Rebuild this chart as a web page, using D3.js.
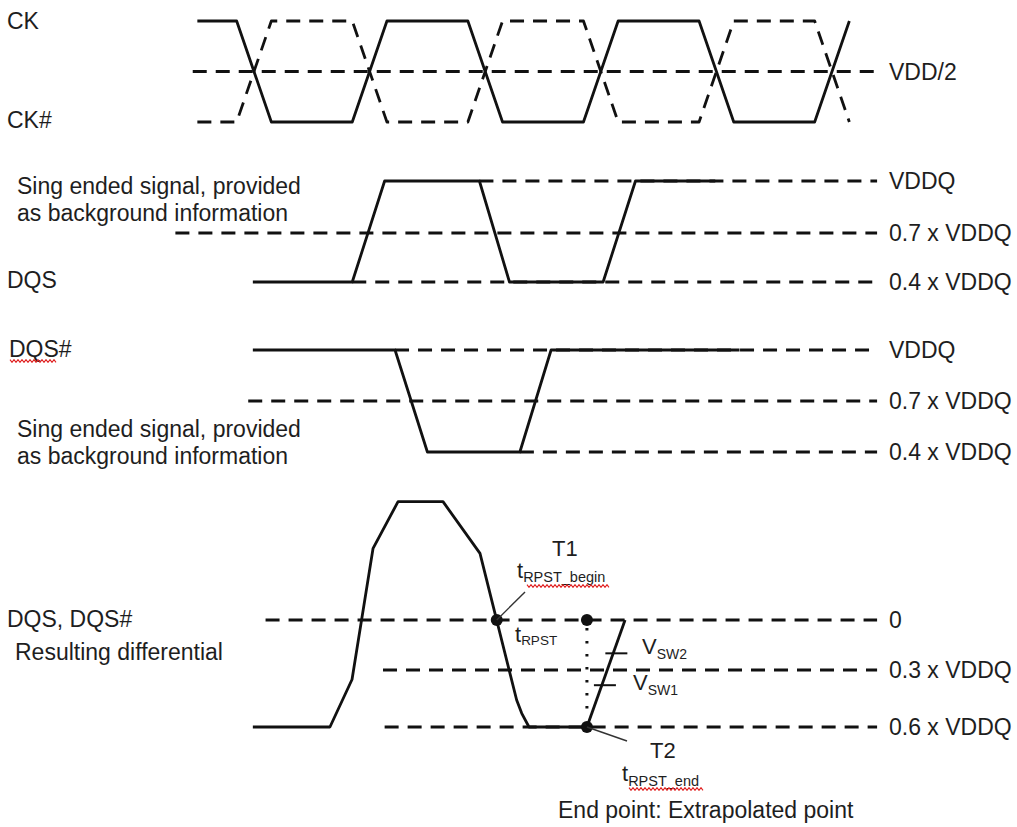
<!DOCTYPE html>
<html>
<head>
<meta charset="utf-8">
<script src="https://cdn.jsdelivr.net/npm/d3@7"></script>
<style>
  html, body { margin: 0; padding: 0; background: #fff; }
  text { font-family: "Liberation Sans", Arial, sans-serif; fill: #1e1e1e; }
</style>
</head>
<body>
<svg id="chart" width="1017" height="827"></svg>
<script>
// ---- time axis: one unit = half a clock period ----
const timeDomain = [0, 1];
const refEnd = 5.39;

// ---- CK / CK# (level 1 = high, 0 = low) ----
const ckWave  = [[-0.49,1],[-0.15,1],[0.15,0],[0.85,0],[1.15,1],[1.85,1],[2.15,0],[2.85,0],[3.15,1],[3.85,1],[4.15,0],[4.85,0],[5.15,1]];
const ckbWave = [[-0.49,0],[-0.15,0],[0.15,1],[0.85,1],[1.15,0],[1.85,0],[2.15,1],[2.85,1],[3.15,0],[3.85,0],[4.15,1],[4.85,1],[5.15,0]];
const ckRefs  = [{level: 0.5, from: -0.53, label: "VDD/2"}];

// ---- DQS single ended (fraction of VDDQ) ----
const dqsWave = [[-0.01,0.4],[0.85,0.4],[1.13,1],[1.95,1],[2.21,0.4],[3.02,0.4],[3.30,1],[3.99,1]];
const dqsRefs = [
  {level: 1.0, from: 1.95,  label: "VDDQ"},
  {level: 0.7, from: -0.68, label: "0.7 x VDDQ"},
  {level: 0.4, from: 0.85,  label: "0.4 x VDDQ"}
];

// ---- DQS# single ended ----
const dqsbWave = [[-0.01,1],[1.22,1],[1.50,0.4],[2.30,0.4],[2.57,1],[4.20,1]];
const dqsbRefs = [
  {level: 1.0, from: 1.22,  label: "VDDQ"},
  {level: 0.7, from: -0.05, label: "0.7 x VDDQ"},
  {level: 0.4, from: 2.30,  label: "0.4 x VDDQ"}
];

// ---- DQS - DQS# differential (fraction of VDDQ, negative = below 0) ----
const diffWave = [[-0.01,-0.6],[0.657,-0.6],[0.848,-0.35],[1.03,0.43],[1.246,0.71],[1.635,0.71],[1.955,0.40],[2.272,-0.458],[2.316,-0.528],[2.379,-0.6],[2.88,-0.6]];
const diffRefs = [
  {level: 0,    from: 0.10,  label: "0"},
  {level: -0.3, from: 1.116, label: "0.3 x VDDQ"},
  {level: -0.6, from: 1.13,  label: "0.6 x VDDQ"}
];
const t1Point = [2.10, 0];
const t2Point = [2.88, -0.6];
const extrapTop = [2.88, 0];
const extrapLine = [[2.88,-0.6],[3.21,0]];
const swTicks = [{v: -0.2, name: "SW2"}, {v: -0.38, name: "SW1"}];

// ---- scales ----
const svg = d3.select("#chart");
const x = d3.scaleLinear().domain(timeDomain).range([254, 369.6]);
const yCK   = d3.scaleLinear().domain([0, 1]).range([122, 21]);
const yDQS  = d3.scaleLinear().domain([0.4, 0.7, 1]).range([282, 233, 181]);
const yDQSB = d3.scaleLinear().domain([0.4, 0.7, 1]).range([452, 401, 350]);
const yDiff = d3.scaleLinear().domain([-0.6, -0.3, 0]).range([727, 670, 620]);

const SW = 2.8;
const DASH = "14,9";

function wave(data, y, dashed) {
  const line = d3.line().x(d => x(d[0])).y(d => y(d[1]));
  svg.append("path").attr("d", line(data))
    .attr("fill", "none").attr("stroke", "#111").attr("stroke-width", SW)
    .attr("stroke-linejoin", "round")
    .attr("stroke-dasharray", dashed ? DASH : null);
}
function refs(list, y) {
  list.forEach(r => {
    svg.append("line")
      .attr("x1", x(r.from)).attr("x2", x(refEnd))
      .attr("y1", y(r.level)).attr("y2", y(r.level))
      .attr("stroke", "#111").attr("stroke-width", SW)
      .attr("stroke-dasharray", DASH);
    svg.append("text").attr("x", 889).attr("y", y(r.level) + 8)
      .attr("font-size", 23).text(r.label);
  });
}
function label(txt, lx, ly, size) {
  svg.append("text").attr("x", lx).attr("y", ly).attr("font-size", size || 23).text(txt);
}
function squiggle(x0, x1, yy) {
  const pts = [];
  for (let xx = x0, i = 0; xx <= x1; xx += 2, i++) pts.push([xx, yy + (i % 2 ? 1.4 : -1.4)]);
  svg.append("path").attr("d", d3.line()(pts)).attr("fill", "none")
    .attr("stroke", "#e02020").attr("stroke-width", 1.1);
}
function subLabel(main, sub, lx, ly, mainSize, subSize, subDy) {
  const t = svg.append("text").attr("x", lx).attr("y", ly).attr("font-size", mainSize);
  t.append("tspan").text(main);
  t.append("tspan").attr("font-size", subSize).attr("dy", subDy).text(sub);
  return t;
}

// ---- CK panel ----
refs(ckRefs, yCK);
wave(ckbWave, yCK, true);
wave(ckWave, yCK, false);
label("CK", 7, 29);
label("CK#", 7, 128);

// ---- DQS panel ----
refs(dqsRefs, yDQS);
wave(dqsWave, yDQS, false);
label("Sing ended signal, provided", 17, 194);
label("as background information", 17, 221);
label("DQS", 7, 288);

// ---- DQS# panel ----
refs(dqsbRefs, yDQSB);
wave(dqsbWave, yDQSB, false);
label("DQS#", 9, 357);
squiggle(10, 57, 361);
label("Sing ended signal, provided", 17, 437);
label("as background information", 17, 464);

// ---- Differential panel ----
refs(diffRefs, yDiff);
wave(diffWave, yDiff, false);
label("DQS, DQS#", 7, 627);
label("Resulting differential", 15, 660);

// extrapolation
svg.append("line")
  .attr("x1", x(extrapLine[0][0])).attr("y1", yDiff(extrapLine[0][1]))
  .attr("x2", x(extrapLine[1][0])).attr("y2", yDiff(extrapLine[1][1]))
  .attr("stroke", "#111").attr("stroke-width", SW);
svg.append("line")
  .attr("x1", x(extrapTop[0])).attr("y1", yDiff(extrapTop[1]) + 8)
  .attr("x2", x(t2Point[0])).attr("y2", yDiff(t2Point[1]) - 8)
  .attr("stroke", "#111").attr("stroke-width", 3)
  .attr("stroke-dasharray", "2.5,10.5");

// swing ticks
const extrapT = v => extrapLine[0][0] + (v - extrapLine[0][1]) / (extrapLine[1][1] - extrapLine[0][1]) * (extrapLine[1][0] - extrapLine[0][0]);
swTicks.forEach(s => {
  const cx = x(extrapT(s.v)) + 4;
  svg.append("line").attr("x1", cx - 11).attr("x2", cx + 11)
    .attr("y1", yDiff(s.v)).attr("y2", yDiff(s.v))
    .attr("stroke", "#111").attr("stroke-width", 2);
});
subLabel("V", "SW2", 642, 654, 22, 14, 5);
subLabel("V", "SW1", 633, 690, 22, 14, 5);

// points
[t1Point, t2Point, extrapTop].forEach(p => {
  svg.append("circle").attr("cx", x(p[0])).attr("cy", yDiff(p[1])).attr("r", 6).attr("fill", "#111");
});

// leader lines
svg.append("line").attr("x1", x(t1Point[0])).attr("y1", yDiff(t1Point[1]))
  .attr("x2", 525).attr("y2", 592).attr("stroke", "#333").attr("stroke-width", 1.4);
svg.append("line").attr("x1", x(t2Point[0])).attr("y1", yDiff(t2Point[1]))
  .attr("x2", 627).attr("y2", 741).attr("stroke", "#333").attr("stroke-width", 1.4);

// annotations
label("T1", 552, 556, 22);
subLabel("t", "RPST_begin", 517, 578, 22, 14.5, 4);
squiggle(527, 610, 586);
subLabel("t", "RPST", 515, 642, 22, 13.5, 3);
label("T2", 650, 758, 22);
subLabel("t", "RPST_end", 622, 781, 22, 14.5, 5);
squiggle(629, 703, 789);
label("End point: Extrapolated point", 558, 818);
</script>
</body>
</html>
